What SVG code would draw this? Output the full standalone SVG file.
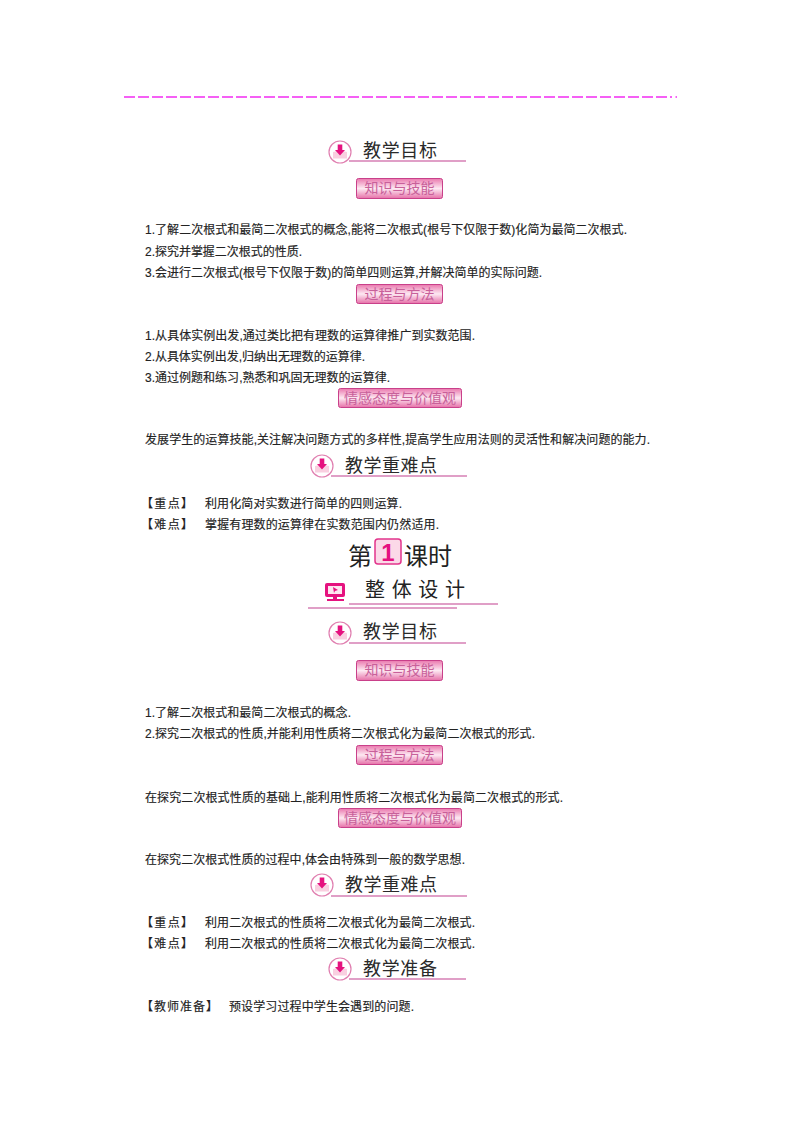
<svg xmlns="http://www.w3.org/2000/svg" width="800" height="1132" viewBox="0 0 800 1132">
<style>
text{font-family:"Liberation Sans","Noto Sans CJK SC",sans-serif;fill:#222}
.b{font-size:12px;stroke:#222;stroke-width:.15}
.h{font-size:18px;fill:#2a2a2a}
.bt{font-size:14px;fill:#c8609a;text-anchor:middle}
.ln{stroke:#c2408f;stroke-width:1.2;fill:none}
.btn{fill:url(#g);stroke:#c9408a}
</style>
<defs>
<linearGradient id="g" x1="0" y1="0" x2="0" y2="1"><stop offset="0" stop-color="#ea78ae"/><stop offset=".5" stop-color="#fde9f2"/><stop offset="1" stop-color="#e670a8"/></linearGradient>
<g id="ic">
<circle r="11" fill="#fff" stroke="#e07fb0" stroke-width="1.2"/>
<path d="M-7 0L-3 -1L3 -1L7 0V6.500H-7Z" fill="#f9cfe0"/>
<path d="M-2.300 -7.500H2.300V-2H5L0 3.500L-5 -2H-2.300Z" fill="#e5127f"/>
</g>
</defs>
<path d="M124 97H672" stroke="#f22cf2" stroke-width="1.4" stroke-dasharray="11 3" fill="none"/>
<path d="M675.500 97H677" stroke="#f22cf2" stroke-width="1.4" fill="none"/>

<g id="h1"><path class="ln" d="M349 161H466"/><use href="#ic" x="340" y="152"/><text class="h" x="363" y="157" textLength="74">教学目标</text></g>
<g id="b1"><rect class="btn" x="356.500" y="178.500" width="86" height="20" rx="2"/><text class="bt" x="399.500" y="193">知识与技能</text></g>
<g id="t1">
<text class="b" x="145" y="234" textLength="482">1.了解二次根式和最简二次根式的概念,能将二次根式(根号下仅限于数)化简为最简二次根式.</text>
<text class="b" x="145" y="256" textLength="157">2.探究并掌握二次根式的性质.</text>
<text class="b" x="145" y="277" textLength="397">3.会进行二次根式(根号下仅限于数)的简单四则运算,并解决简单的实际问题.</text>
</g>
<g id="b2"><rect class="btn" x="356.500" y="284.500" width="86" height="19" rx="2"/><text class="bt" x="399.500" y="299">过程与方法</text></g>
<g id="t2">
<text class="b" x="145" y="340" textLength="330">1.从具体实例出发,通过类比把有理数的运算律推广到实数范围.</text>
<text class="b" x="145" y="361" textLength="220">2.从具体实例出发,归纳出无理数的运算律.</text>
<text class="b" x="145" y="382" textLength="245">3.通过例题和练习,熟悉和巩固无理数的运算律.</text>
</g>
<g id="b3"><rect class="btn" x="338.500" y="388.500" width="123" height="19" rx="2"/><text class="bt" x="400" y="403">情感态度与价值观</text></g>
<g id="t3"><text class="b" x="145" y="444" textLength="505">发展学生的运算技能,关注解决问题方式的多样性,提高学生应用法则的灵活性和解决问题的能力.</text></g>
<g id="h2"><path class="ln" d="M331 476H467"/><use href="#ic" x="322" y="466"/><text class="h" x="345" y="472" textLength="92">教学重难点</text></g>
<g id="t4">
<text class="b" x="141" y="508" textLength="52">【重点】</text><text class="b" x="205" y="508" textLength="197">利用化简对实数进行简单的四则运算.</text>
<text class="b" x="141" y="529" textLength="52">【难点】</text><text class="b" x="205" y="529" textLength="234">掌握有理数的运算律在实数范围内仍然适用.</text>
</g>
<g id="lesson">
<text x="348" y="565" font-size="24" textLength="24">第</text>
<rect x="375" y="539" width="26" height="25" rx="3" fill="#fbd9e8" stroke="#e2348c" stroke-width="1.5"/>
<text x="388" y="561" font-size="24" font-weight="bold" text-anchor="middle" style="fill:#e5127f">1</text>
<text x="404" y="565" font-size="24" textLength="48">课时</text>
</g>
<g id="design">
<path class="ln" d="M349 604H498M308 608H457" stroke-width="1"/>
<rect x="325" y="583" width="20" height="14" rx="2" fill="#e5127f"/><rect x="328" y="586" width="14" height="8" fill="#fde6f0"/><path d="M333 587L338 590L335 591L334 593Z" fill="#e5127f"/><rect x="327" y="599" width="17" height="2" fill="#e5127f"/><rect x="333" y="597" width="4" height="2" fill="#e5127f"/>
<text x="365" y="597" font-size="20" textLength="100">整体设计</text>
</g>
<g id="h3"><path class="ln" d="M349 643H466"/><use href="#ic" x="340" y="633"/><text class="h" x="363" y="638" textLength="74">教学目标</text></g>
<g id="b4"><rect class="btn" x="356.500" y="660.500" width="86" height="20" rx="2"/><text class="bt" x="399.500" y="675">知识与技能</text></g>
<g id="t5">
<text class="b" x="145" y="717" textLength="206">1.了解二次根式和最简二次根式的概念.</text>
<text class="b" x="145" y="738" textLength="390">2.探究二次根式的性质,并能利用性质将二次根式化为最简二次根式的形式.</text>
</g>
<g id="b5"><rect class="btn" x="356.500" y="745.500" width="86" height="19" rx="2"/><text class="bt" x="399.500" y="760">过程与方法</text></g>
<g id="t6"><text class="b" x="145" y="802" textLength="418">在探究二次根式性质的基础上,能利用性质将二次根式化为最简二次根式的形式.</text></g>
<g id="b6"><rect class="btn" x="338.500" y="808.500" width="123" height="19" rx="2"/><text class="bt" x="400" y="823">情感态度与价值观</text></g>
<g id="t7"><text class="b" x="145" y="864" textLength="320">在探究二次根式性质的过程中,体会由特殊到一般的数学思想.</text></g>
<g id="h4"><path class="ln" d="M331 896H467"/><use href="#ic" x="322" y="885"/><text class="h" x="345" y="891" textLength="92">教学重难点</text></g>
<g id="t8">
<text class="b" x="141" y="927" textLength="52">【重点】</text><text class="b" x="205" y="927" textLength="270">利用二次根式的性质将二次根式化为最简二次根式.</text>
<text class="b" x="141" y="948" textLength="52">【难点】</text><text class="b" x="205" y="948" textLength="270">利用二次根式的性质将二次根式化为最简二次根式.</text>
</g>
<g id="h5"><path class="ln" d="M349 979H466"/><use href="#ic" x="340" y="969"/><text class="h" x="363" y="975" textLength="74">教学准备</text></g>
<g id="t9">
<text class="b" x="141" y="1011" textLength="77">【教师准备】</text><text class="b" x="229" y="1011" textLength="185">预设学习过程中学生会遇到的问题.</text>
</g>
</svg>
